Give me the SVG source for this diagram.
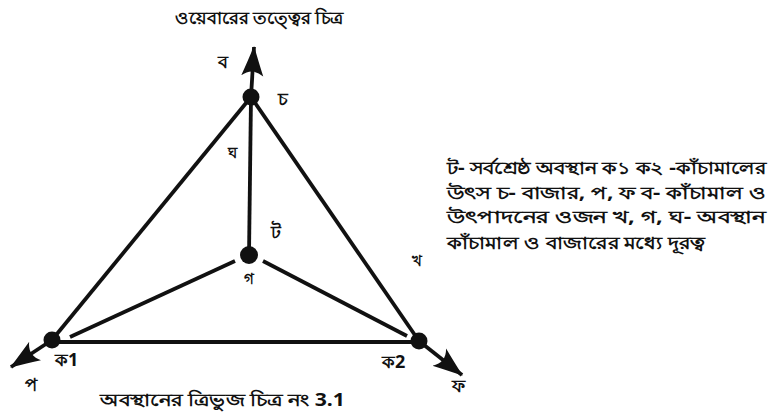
<svg xmlns="http://www.w3.org/2000/svg" width="782" height="418" viewBox="0 0 782 418">
<style>
text{font-family:"Noto Sans","DejaVu Sans",sans-serif;fill:#111;font-weight:bold;}
.lbl{font-size:18px;}
.sm{font-size:15px;}
.ttl{font-size:17px;}
.body{font-size:17px;}
.edge{stroke:#111;stroke-width:3.8;fill:none;stroke-linecap:butt;}
.arr{stroke:#111;stroke-width:3.8;fill:none;marker-end:url(#ah);}
.node{fill:#111;}
</style>
<defs>
<marker id="ah" markerUnits="userSpaceOnUse" viewBox="0 0 30 24" refX="29" refY="12" markerWidth="30" markerHeight="24" orient="auto">
<path d="M0,1 Q13,6 30,12 Q13,18 0,23 Q9,12 0,1 Z" fill="#111"/>
</marker>
</defs>
<rect width="782" height="418" fill="#fff"/>
<text class="ttl" x="175" y="24" textLength="168" lengthAdjust="spacingAndGlyphs">ওয়েবারের তত্ত্বের চিত্র</text>
<g id="connectors">
<line class="edge" x1="251" y1="97" x2="52" y2="340"/>
<line class="edge" x1="251" y1="97" x2="419" y2="341"/>
<line class="edge" x1="52" y1="342" x2="419" y2="342"/>
<line class="edge" x1="251" y1="97" x2="249" y2="255"/>
<line class="edge" x1="235" y1="261" x2="70" y2="337"/>
<line class="edge" x1="263" y1="261" x2="407" y2="336"/>
<line class="arr" x1="251" y1="97" x2="254" y2="47"/>
<line class="arr" x1="52" y1="340" x2="11" y2="367"/>
<line class="arr" x1="419" y1="341" x2="462" y2="375"/>
</g>
<g id="node-ch">
<circle class="node" cx="251" cy="97" r="8.5"/>
<text class="lbl" x="283" y="105" text-anchor="middle">চ</text>
<text class="lbl" x="223" y="68" text-anchor="middle">ব</text>
</g>
<g id="node-k1">
<circle class="node" cx="52" cy="340" r="8.5"/>
<text class="lbl" x="55" y="366">ক1</text>
<text class="lbl" x="31" y="391" text-anchor="middle">প</text>
</g>
<g id="node-k2">
<circle class="node" cx="419" cy="341" r="8.5"/>
<text class="lbl" x="382" y="368">ক2</text>
<text class="lbl" x="458" y="392" text-anchor="middle">ফ</text>
</g>
<g id="node-t">
<circle class="node" cx="249" cy="255" r="9"/>
<text class="lbl" x="276" y="238" text-anchor="middle">ট</text>
<text class="sm" x="249" y="284" text-anchor="middle">গ</text>
</g>
<g id="edge-labels">
<text class="sm" x="232" y="158" text-anchor="middle">ঘ</text>
<text class="sm" x="417" y="266" text-anchor="middle">খ</text>
</g>
<g id="legend">
<text class="body" x="447" y="174" textLength="319" lengthAdjust="spacingAndGlyphs">ট- সর্বশ্রেষ্ঠ অবস্থান ক১ ক২ -কাঁচামালের</text>
<text class="body" x="447" y="199" textLength="319" lengthAdjust="spacingAndGlyphs">উৎস চ- বাজার, প, ফ ব- কাঁচামাল ও</text>
<text class="body" x="447" y="223" textLength="319" lengthAdjust="spacingAndGlyphs">উৎপাদনের ওজন খ, গ, ঘ- অবস্থান</text>
<text class="body" x="447" y="249" textLength="258" lengthAdjust="spacingAndGlyphs">কাঁচামাল ও বাজারের মধ্যে দূরত্ব</text>
</g>
<text class="ttl" x="100" y="406" textLength="245" lengthAdjust="spacingAndGlyphs">অবস্থানের ত্রিভুজ চিত্র নং 3.1</text>
</svg>
